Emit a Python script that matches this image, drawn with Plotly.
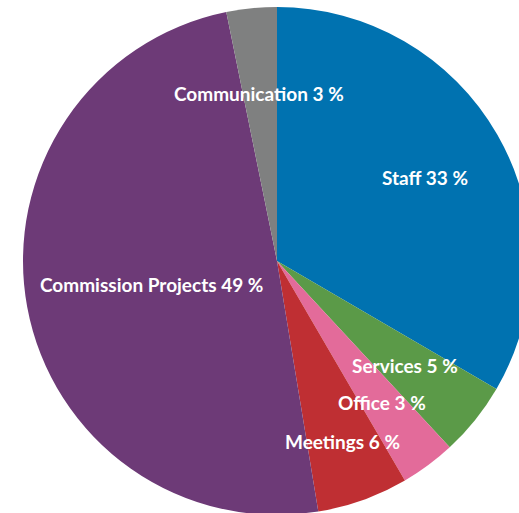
import plotly.graph_objects as go

categorias = ['Staff', 'Services', 'Office', 'Meetings', 'Commission Projects', 'Communication']
valores = [33.4, 4.7, 3.5, 5.8, 49.4, 3.2]
rotulos_pct = [33, 5, 3, 6, 49, 3]
cores = ['#0072B0', '#5B9A48', '#E36B9A', '#BF2F33', '#6D3A77', '#7F8080']

W, H = 540, 522

# centro dos rotulos em pixels de tela
pos_rotulos = {
    'Staff': (425, 177),
    'Services': (405, 365),
    'Office': (382, 402),
    'Meetings': (342, 441),
    'Commission Projects': (151, 284),
    'Communication': (259, 94),
}

fig = go.Figure()

fig.add_trace(go.Pie(
    labels=categorias,
    values=valores,
    sort=False,
    direction='clockwise',
    rotation=0,
    marker=dict(colors=cores, line=dict(width=0)),
    textinfo='none',
    hoverinfo='label+percent',
    domain=dict(x=[23 / W, 531 / W], y=[7 / H, 515 / H]),
    showlegend=False,
))

for nome, pct in zip(categorias, rotulos_pct):
    px, py = pos_rotulos[nome]
    fig.add_annotation(
        x=px / W,
        y=1 - py / H,
        xref='paper', yref='paper',
        text=f'<b>{nome} {pct} %</b>',
        showarrow=False,
        font=dict(family='Lato', size=19, color='white'),
        xanchor='center', yanchor='middle',
    )

fig.update_layout(
    width=W,
    height=H,
    margin=dict(l=0, r=0, t=0, b=0),
    paper_bgcolor='white',
    plot_bgcolor='white',
)

fig.write_html(
    "out.html",
    config={'displayModeBar': False},
    post_script="document.body.style.margin='0';document.documentElement.style.overflow='hidden';",
)
